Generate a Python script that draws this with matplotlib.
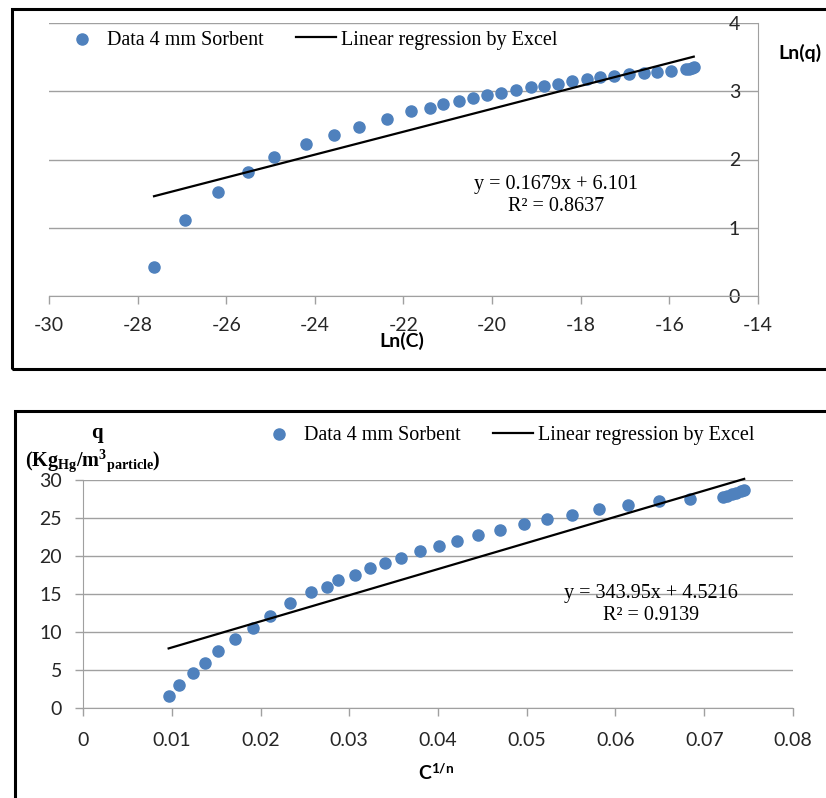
import matplotlib
matplotlib.use("Agg")
import matplotlib.pyplot as plt
from matplotlib.patches import Rectangle
from matplotlib.ticker import FixedLocator, FuncFormatter

# -----------------------------
# Data
# -----------------------------
# top panel: Ln(q) vs Ln(C)
ln_c = [-27.63, -26.94, -26.18, -25.52, -24.92, -24.21, -23.57, -23.00, -22.38,
        -21.82, -21.40, -21.11, -20.75, -20.43, -20.12, -19.80, -19.47, -19.12,
        -18.84, -18.51, -18.20, -17.87, -17.56, -17.24, -16.90, -16.58, -16.27,
        -15.97, -15.63, -15.55, -15.49, -15.45]
ln_q = [0.43, 1.11, 1.52, 1.81, 2.03, 2.22, 2.36, 2.48, 2.60,
        2.71, 2.76, 2.81, 2.86, 2.90, 2.94, 2.98, 3.02, 3.06,
        3.08, 3.11, 3.15, 3.18, 3.21, 3.23, 3.25, 3.27, 3.28,
        3.30, 3.32, 3.33, 3.34, 3.35]
ln_slope, ln_icpt, ln_r2 = 0.1679, 6.101, 0.8637
ln_xticks = [-30, -28, -26, -24, -22, -20, -18, -16, -14]
ln_yticks = [0, 1, 2, 3, 4]

# bottom panel: q vs C^(1/n)
c_1n = [0.00965, 0.01083, 0.01237, 0.01380, 0.01517, 0.01713, 0.01914, 0.02104,
        0.02330, 0.02568, 0.02751, 0.02876, 0.03060, 0.03238, 0.03398, 0.03582,
        0.03796, 0.04016, 0.04217, 0.04455, 0.04704, 0.04966, 0.05227, 0.05512,
        0.05815, 0.06146, 0.06491, 0.06836, 0.07210, 0.07260, 0.07310, 0.07360,
        0.07410, 0.07450]
q_vals = [1.62, 3.03, 4.56, 5.96, 7.54, 9.12, 10.57, 12.15,
          13.77, 15.26, 15.96, 16.80, 17.54, 18.38, 19.04, 19.78,
          20.62, 21.32, 21.97, 22.76, 23.46, 24.17, 24.87, 25.45,
          26.14, 26.71, 27.20, 27.50, 27.80, 27.95, 28.15, 28.35,
          28.55, 28.75]
lin_slope, lin_icpt, lin_r2 = 343.95, 4.5216, 0.9139
c_xticks = [0, 0.01, 0.02, 0.03, 0.04, 0.05, 0.06, 0.07, 0.08]
q_yticks = [0, 5, 10, 15, 20, 25, 30]

# -----------------------------
# Style
# -----------------------------
W, H = 826, 798
BLUE = "#4F81BD"
GRID = "#A0A0A0"
TICKTXT = "#262626"
SANS = "Lato"
SERIF = "Liberation Serif"

plt.rcParams["axes.unicode_minus"] = False
plt.rcParams["mathtext.fontset"] = "custom"
plt.rcParams["mathtext.rm"] = SERIF
plt.rcParams["mathtext.bf"] = SERIF + ":bold"
plt.rcParams["mathtext.it"] = SERIF + ":italic"
plt.rcParams["mathtext.sf"] = SANS + ":bold"


def fx(px):
    return px / W


def fy(py):
    return 1 - py / H


def style_axes(ax, yside):
    ax.set_facecolor("none")
    ax.grid(axis="y", color=GRID, linewidth=1.0)
    ax.set_axisbelow(True)
    for s in ax.spines.values():
        s.set_visible(False)
    ax.spines["bottom"].set_visible(True)
    ax.spines["bottom"].set_color(GRID)
    ax.spines[yside].set_visible(True)
    ax.spines[yside].set_color(GRID)
    ax.tick_params(axis="x", colors=GRID, labelcolor=TICKTXT, direction="out",
                   length=6, width=1.0)
    for lab in ax.get_xticklabels() + ax.get_yticklabels():
        lab.set_fontfamily(SANS)


fig = plt.figure(figsize=(W / 100, H / 100), dpi=100)

# black frames round the two charts
fig.patches.append(Rectangle((fx(11.5), fy(369)), fx(900), 369 / H - 9.5 / H,
                             transform=fig.transFigure, fill=False,
                             edgecolor="black", linewidth=2.2))
fig.patches.append(Rectangle((fx(15), fy(900)), fx(900), 900 / H - 411.5 / H,
                             transform=fig.transFigure, fill=False,
                             edgecolor="black", linewidth=2.2))

# -----------------------------
# Top panel
# -----------------------------
ax1 = fig.add_axes([fx(49), fy(296), fx(758 - 49), (296 - 23) / H])
ax1.set_xlim(ln_xticks[0], ln_xticks[-1])
ax1.set_ylim(ln_yticks[0], ln_yticks[-1])
ax1.xaxis.set_major_locator(FixedLocator(ln_xticks))
ax1.yaxis.set_major_locator(FixedLocator(ln_yticks))
ax1.xaxis.set_major_formatter(FuncFormatter(lambda v, p: f"{v:g}"))
ax1.yaxis.set_major_formatter(FuncFormatter(lambda v, p: f"{v:g}"))
ax1.yaxis.tick_right()
style_axes(ax1, "right")
ax1.tick_params(axis="x", labelsize=14, pad=9)
ax1.tick_params(axis="y", length=0, labelsize=14, colors=TICKTXT, pad=-21)
for lab in ax1.get_yticklabels():
    lab.set_fontfamily(SANS)

ax1.scatter(ln_c, ln_q, s=64, color=BLUE, zorder=3, clip_on=False,
            label="Data 4 mm Sorbent")
x_fit = [min(ln_c), max(ln_c)]
ax1.plot(x_fit, [ln_slope * v + ln_icpt for v in x_fit], color="black",
         linewidth=1.6, zorder=4, label="Linear regression by Excel")

ax1.legend(loc="center left", bbox_to_anchor=(fx(62), fy(40)),
           bbox_transform=fig.transFigure, ncol=2, frameon=False,
           prop={"family": SERIF, "size": 14.5}, handlelength=2.0,
           handletextpad=0.25, columnspacing=1.6, borderpad=0,
           borderaxespad=0, scatterpoints=1)

fig.text(fx(556), fy(195.5), f"y = {ln_slope}x + {ln_icpt}\nR² = {ln_r2}",
         ha="center", va="center", family=SERIF, fontsize=14.5,
         linespacing=1.25)

# axis title sits over the "-22" label, as in the source
ax1.set_xlabel("Ln(C)", family=SANS, fontweight="bold", fontsize=14)
ax1.xaxis.set_label_coords(fx(402), fy(341), transform=fig.transFigure)
ax1.xaxis.label.set_va("center")
ax1.set_ylabel("Ln(q)", family=SANS, fontweight="bold", fontsize=14,
               rotation=0)
ax1.yaxis.set_label_coords(fx(800), fy(53), transform=fig.transFigure)
ax1.yaxis.label.set_va("center")
ax1.yaxis.label.set_ha("center")

# -----------------------------
# Bottom panel
# -----------------------------
ax2 = fig.add_axes([fx(83), fy(708), fx(793 - 83), (708 - 480) / H])
ax2.set_xlim(c_xticks[0], c_xticks[-1])
ax2.set_ylim(q_yticks[0], q_yticks[-1])
ax2.xaxis.set_major_locator(FixedLocator(c_xticks))
ax2.yaxis.set_major_locator(FixedLocator(q_yticks))
ax2.xaxis.set_major_formatter(FuncFormatter(lambda v, p: f"{v:g}"))
ax2.yaxis.set_major_formatter(FuncFormatter(lambda v, p: f"{v:g}"))
style_axes(ax2, "left")
ax2.tick_params(axis="x", labelsize=14, pad=11)
ax2.tick_params(axis="y", colors=GRID, labelcolor=TICKTXT, direction="out",
                length=6, width=1.0, labelsize=14, pad=9)
for lab in ax2.get_xticklabels() + ax2.get_yticklabels():
    lab.set_fontfamily(SANS)

ax2.scatter(c_1n, q_vals, s=64, color=BLUE, zorder=3, clip_on=False,
            label="Data 4 mm Sorbent")
x_fit2 = [min(c_1n), max(c_1n)]
ax2.plot(x_fit2, [lin_slope * v + lin_icpt for v in x_fit2], color="black",
         linewidth=1.6, zorder=4, clip_on=False,
         label="Linear regression by Excel")

ax2.legend(loc="center left", bbox_to_anchor=(fx(259), fy(435)),
           bbox_transform=fig.transFigure, ncol=2, frameon=False,
           prop={"family": SERIF, "size": 14.5}, handlelength=2.0,
           handletextpad=0.25, columnspacing=1.6, borderpad=0,
           borderaxespad=0, scatterpoints=1)

fig.text(fx(651), fy(604.5), f"y = {lin_slope}x + {lin_icpt}\nR² = {lin_r2}",
         ha="center", va="center", family=SERIF, fontsize=14.5,
         linespacing=1.25)

ax2.set_xlabel(r"C$^{\mathsf{1/n}}$", family=SANS, fontweight="bold",
               fontsize=14)
ax2.xaxis.set_label_coords(fx(436), fy(773), transform=fig.transFigure)
ax2.xaxis.label.set_va("center")
ax2.set_ylabel("q", family=SERIF, fontweight="bold", fontsize=15, rotation=0)
ax2.yaxis.set_label_coords(fx(97), fy(433), transform=fig.transFigure)
ax2.yaxis.label.set_va("center")
ax2.yaxis.label.set_ha("center")
fig.text(fx(93), fy(461),
         r"(Kg$_{\mathbf{Hg}}$/m$^{\mathbf{3}}$$_{\mathbf{particle}}$)",
         ha="center", va="center", family=SERIF, fontweight="bold",
         fontsize=14.5)

fig.savefig("out.png", dpi=100)
